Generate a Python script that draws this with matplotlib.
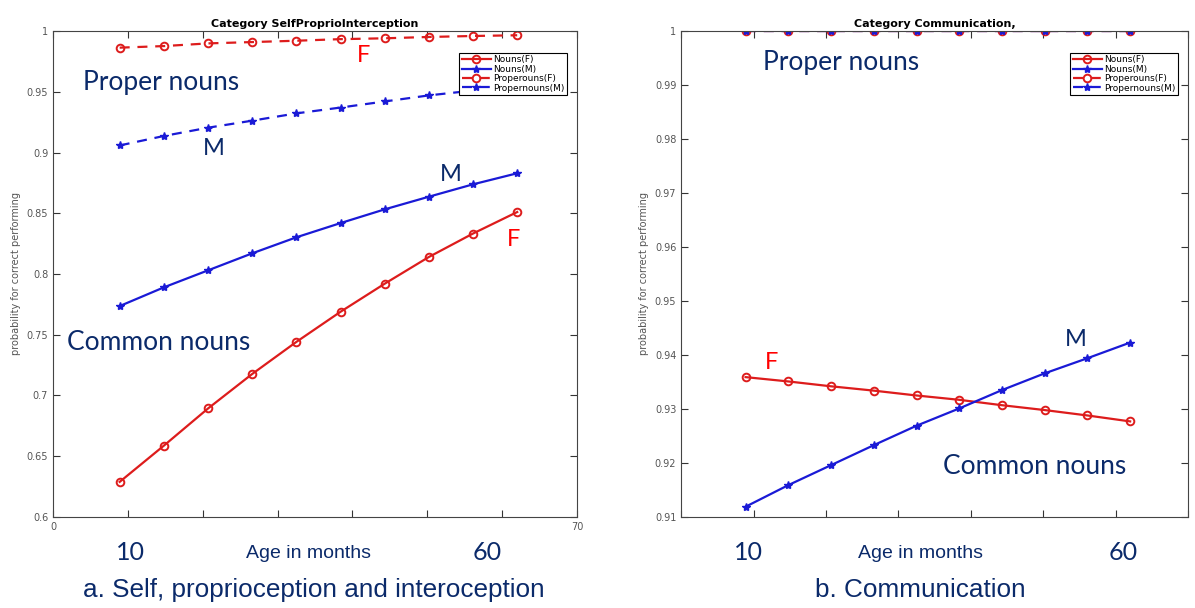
import matplotlib.pyplot as plt

# ages (months) where the model was evaluated
ages = [8.9, 14.8, 20.7, 26.6, 32.5, 38.4, 44.3, 50.2, 56.1, 62.0]

# a. Self, proprioception and interoception
self_nouns_f = [0.6289, 0.6587, 0.6893, 0.7177, 0.7441, 0.7689, 0.7920, 0.8140, 0.8333, 0.8510]
self_nouns_m = [0.7736, 0.7890, 0.8030, 0.8170, 0.8302, 0.8419, 0.8532, 0.8636, 0.8738, 0.8829]
self_proper_f = [0.9863, 0.9876, 0.9898, 0.9909, 0.9920, 0.9933, 0.9940, 0.9951, 0.9959, 0.9965]
self_proper_m = [0.9058, 0.9136, 0.9204, 0.9262, 0.9322, 0.9370, 0.9420, 0.9470, 0.9510, 0.9550]

# b. Communication
comm_nouns_f = [0.9359, 0.9351, 0.9342, 0.9334, 0.9325, 0.9317, 0.9307, 0.9298, 0.9288, 0.9277]
comm_nouns_m = [0.9119, 0.9159, 0.9196, 0.9233, 0.9269, 0.9301, 0.9335, 0.9366, 0.9394, 0.9423]
comm_proper_f = [1.0, 1.0, 1.0, 1.0, 1.0, 1.0, 1.0, 1.0, 1.0, 1.0]
comm_proper_m = [1.0, 1.0, 1.0, 1.0, 1.0, 1.0, 1.0, 1.0, 1.0, 1.0]

legend_labels = ["Nouns(F)", "Nouns(M)", "Properouns(F)", "Propernouns(M)"]
self_ticks = [0.6, 0.65, 0.7, 0.75, 0.8, 0.85, 0.9, 0.95, 1]
self_ticklabels = ["0.6", "0.65", "0.7", "0.75", "0.8", "0.85", "0.9", "0.95", "1"]
comm_ticks = [0.91, 0.92, 0.93, 0.94, 0.95, 0.96, 0.97, 0.98, 0.99, 1]
comm_ticklabels = ["0.91", "0.92", "0.93", "0.94", "0.95", "0.96", "0.97", "0.98", "0.99", "1"]

RED = "#dd1c1c"
BLUE = "#1a1ad6"
NAVY = "#0b2a6a"
ANNOT = "Lato"

fig = plt.figure(figsize=(11.95, 6.08), dpi=100)
ax1 = fig.add_axes([0.0444, 0.1497, 0.4385, 0.7993])
ax2 = fig.add_axes([0.570, 0.1497, 0.4242, 0.7993])


def draw(ax, nf, nm, pf, pm, title, ticks, ticklabels, ylim):
    ax.plot(ages, nf, color=RED, lw=1.6, marker="o", ms=5.5, mfc="none", mew=1.4, label=legend_labels[0])
    ax.plot(ages, nm, color=BLUE, lw=1.6, marker="*", ms=6, label=legend_labels[1])
    ax.plot(ages, pf, color=RED, lw=1.6, ls=(0, (4.5, 3.5)), marker="o", ms=5.5, mfc="none", mew=1.4,
            label=legend_labels[2])
    ax.plot(ages, pm, color=BLUE, lw=1.6, ls=(0, (4.5, 3.5)), marker="*", ms=6,
            label=legend_labels[3])
    ax.set_xlim(0, 70)
    ax.set_ylim(*ylim)
    ax.set_xticks([0, 10, 20, 30, 40, 50, 60, 70])
    ax.set_yticks(ticks)
    ax.set_yticklabels(ticklabels)
    ax.tick_params(direction="in", top=True, right=True, labelsize=7, colors="#333333",
                   labelcolor="#555555", length=5)
    for s in ax.spines.values():
        s.set_color("#444444")
    ax.set_title(title, fontsize=8, fontweight="bold", pad=3)
    ax.set_ylabel("probability for correct performing", fontsize=7, color="#555555", labelpad=4)
    leg = ax.legend(loc="upper right", fontsize=6.5, fancybox=False, edgecolor="black",
                    framealpha=1, borderpad=0.3, labelspacing=0.05, handlelength=3.2,
                    handletextpad=0.3, bbox_to_anchor=(0.99, 0.965))
    leg.get_frame().set_linewidth(0.8)


draw(ax1, self_nouns_f, self_nouns_m, self_proper_f, self_proper_m,
     "Category SelfProprioInterception", self_ticks, self_ticklabels, (0.6, 1.0))
ax1.set_xticklabels(["0", "", "", "", "", "", "", "70"])

draw(ax2, comm_nouns_f, comm_nouns_m, comm_proper_f, comm_proper_m,
     "Category Communication,", comm_ticks, comm_ticklabels, (0.91, 1.0))
ax2.set_xticklabels([])

# annotations inside the panels
ax1.text(4.0, 0.9576, "Proper nouns", fontsize=19, color=NAVY, family=ANNOT, va="center")
ax1.text(1.9, 0.7435, "Common nouns", fontsize=19, color=NAVY, family=ANNOT, va="center")
ax1.text(20.0, 0.903, "M", fontsize=17, color=NAVY, family=ANNOT, va="center")
ax1.text(51.7, 0.882, "M", fontsize=17, color=NAVY, family=ANNOT, va="center")
ax1.text(40.6, 0.980, "F", fontsize=17, color="red", family=ANNOT, va="center")
ax1.text(60.6, 0.828, "F", fontsize=17, color="red", family=ANNOT, va="center")

ax2.text(11.3, 0.99426, "Proper nouns", fontsize=19, color=NAVY, family=ANNOT, va="center")
ax2.text(36.2, 0.91944, "Common nouns", fontsize=19, color=NAVY, family=ANNOT, va="center")
ax2.text(11.5, 0.93852, "F", fontsize=17, color="red", family=ANNOT, va="center")
ax2.text(53.0, 0.9428, "M", fontsize=17, color=NAVY, family=ANNOT, va="center")

# labels under the panels
for x10, xmid, x60, cap_x, cap in [(130, 308, 487, 314, "a. Self, proprioception and interoception"),
                                    (748, 921, 1123, 920, "b. Communication")]:
    fig.text(x10 / 1195, 1 - 553 / 608, "10", fontsize=18, color=NAVY, family=ANNOT, ha="center", va="center")
    fig.text(x60 / 1195, 1 - 553 / 608, "60", fontsize=18, color=NAVY, family=ANNOT, ha="center", va="center")
    fig.text(xmid / 1195, 1 - 554 / 608, "Age in months", fontsize=14, color=NAVY, ha="center",
             va="center", family="Liberation Sans")
    fig.text(cap_x / 1195, 1 - 590 / 608, cap, fontsize=18.8, color=NAVY, ha="center", va="center",
             family="Liberation Sans")

fig.savefig("out.png", dpi=100)
